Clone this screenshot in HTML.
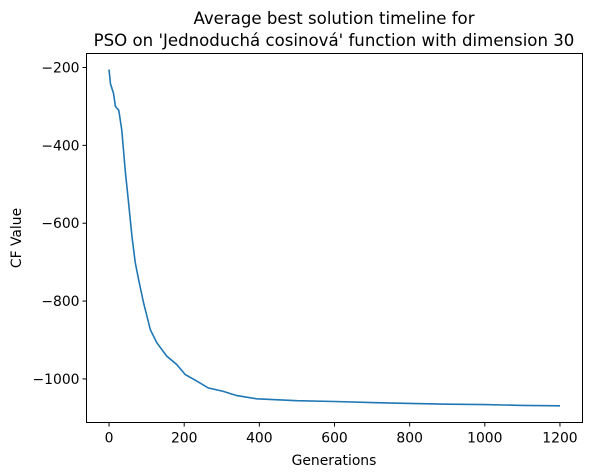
<!DOCTYPE html>
<html><head><meta charset="utf-8"><style>
body{margin:0;background:#fff;}
svg{display:block;font-family:"DejaVu Sans","Liberation Sans",sans-serif;}
</style></head><body>
<svg id="chart" width="592" height="476">
<g id="title" text-anchor="middle" font-size="16.6">
<text x="334" y="24">Average best solution timeline for</text>
<text x="334" y="46">PSO on 'Jednoduchá cosinová' function with dimension 30</text>
</g>
<text x="334" y="465" text-anchor="middle" font-size="13.9">Generations</text>
<text transform="translate(21,238) rotate(-90)" text-anchor="middle" font-size="13.9">CF Value</text>
<g id="xticks"></g>
<g id="yticks"></g>
<path id="line" fill="none" stroke="#1f77b4" stroke-width="1.6"/>
<rect x="86.5" y="53.5" width="496" height="369" fill="none" stroke="#000" stroke-width="1"/>
</svg>
<script>
const generations=[0,4,12,17,26,34,43,52,61,70,79,92,110,127,154,180,203,234,264,304,340,393,500,600,700,800,900,1000,1100,1200];
const cfValues=[-205,-242,-267,-300,-310,-361,-464,-548,-635,-702,-746,-805,-874,-907,-942,-963,-989,-1006,-1023,-1032,-1043,-1051,-1056,-1058,-1061,-1063,-1065,-1066,-1068,-1069];
const xTickValues=[0,200,400,600,800,1000,1200];
const yTickValues=[-200,-400,-600,-800,-1000];
const X0=86.5,X1=582.5,Y0=53.5,Y1=422.5,xmin=-60,xmax=1260,ymin=-1112,ymax=-164;
const sx=v=>X0+(v-xmin)/(xmax-xmin)*(X1-X0);
const sy=v=>Y1-(v-ymin)/(ymax-ymin)*(Y1-Y0);
const NS="http://www.w3.org/2000/svg";
let d="";
generations.forEach((g,i)=>{d+=(i?"L":"M")+sx(g).toFixed(1)+","+sy(cfValues[i]).toFixed(1);});
document.getElementById("line").setAttribute("d",d);
const xg=document.getElementById("xticks");
xTickValues.forEach(v=>{
 const l=document.createElementNS(NS,"line");
 
 
 l.setAttribute("x1",sx(v));l.setAttribute("x2",sx(v));l.setAttribute("y1",Y1);l.setAttribute("y2",Y1+4);l.setAttribute("stroke","#000");
 xg.appendChild(l);
 const t=document.createElementNS(NS,"text");
 
 
 t.setAttribute("x",sx(v));t.setAttribute("y",Y1+20);t.setAttribute("text-anchor","middle");t.setAttribute("font-size","13.9");
 t.textContent=v;xg.appendChild(t);
});
const yg=document.getElementById("yticks");
yTickValues.forEach(v=>{
 const l=document.createElementNS(NS,"line");
 
 
 l.setAttribute("x1",X0-4);l.setAttribute("x2",X0);l.setAttribute("y1",sy(v));l.setAttribute("y2",sy(v));l.setAttribute("stroke","#000");
 yg.appendChild(l);
 const t=document.createElementNS(NS,"text");
 
 
 t.setAttribute("x",X0-7);t.setAttribute("y",sy(v)+5);t.setAttribute("text-anchor","end");t.setAttribute("font-size","13.9");
 t.textContent="\u2212"+Math.abs(v);yg.appendChild(t);
});
</script>
</body></html>
